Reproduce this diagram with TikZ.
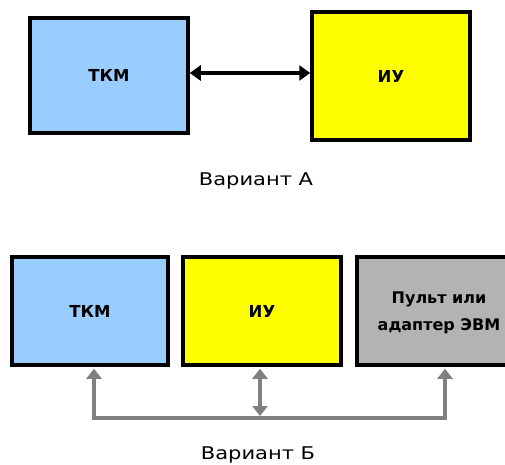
\documentclass[tikz,border=0pt]{standalone}
\usepackage{fontspec}
\setmainfont{DejaVu Sans}
\usetikzlibrary{arrows.meta}
\definecolor{boxblue}{HTML}{99CCFF}
\definecolor{boxyellow}{HTML}{FFFF00}
\definecolor{boxgray}{HTML}{B3B3B3}
\definecolor{busgray}{HTML}{808080}
\tikzset{
  unitbox/.style={draw=black, line width=3.5pt, minimum width=#1, inner sep=0pt,
    font=\bfseries\fontsize{16.5}{18}\selectfont, align=center},
  caption/.style={font=\fontsize{17.5}{20}\selectfont, inner sep=0pt},
  link/.style={line width=4pt, {Triangle[length=11pt,width=15pt]}-{Triangle[length=11pt,width=15pt]}},
  busline/.style={draw=busgray, line width=4.5pt},
  bustip/.style={busline, -{Triangle[length=10pt,width=15pt]}},
}
\begin{document}
\begin{tikzpicture}[x=1pt,y=-1pt]
\useasboundingbox (0,0) rectangle (505,464);
\clip (0,0) rectangle (505,464);

% variant A: direct link
\node[unitbox=158pt, minimum height=115pt, fill=boxblue] (tkmA) at (109,75.5) {ТКМ};
\node[unitbox=158pt, minimum height=128pt, fill=boxyellow] (iuA) at (391,76) {ИУ};
\draw[link] (tkmA.east |- 0,73) -- (iuA.west |- 0,73);
\node[caption] (capA) at (256,181) {\scalebox{1.2}[1]{Вариант А}};

% variant B: common bus
\node[unitbox=156pt, minimum height=108pt, fill=boxblue] (tkmB) at (90,311) {ТКМ};
\node[unitbox=158pt, minimum height=108pt, fill=boxyellow] (iuB) at (262,311) {ИУ};
\node[unitbox=160pt, minimum height=108pt, fill=boxgray] (pult) at (437,311) {};
\node[font=\bfseries\fontsize{16}{27}\selectfont, align=center, inner sep=0pt] (pultText) at (439,313) {Пульт или\\адаптер ЭВМ};

\coordinate (b1) at (94,418);
\coordinate (b2) at (260,418);
\coordinate (b3) at (445,418);
\draw[busline, line cap=rect] (b1) -- (b3);
\draw[bustip] (b1) -- ([yshift=-2pt]b1 |- tkmB.south);
\draw[bustip] (b3) -- ([yshift=-2pt]b3 |- pult.south);
\draw[busline, {Triangle[length=10pt,width=15pt]}-{Triangle[length=10pt,width=15pt]}]
  ([yshift=-2pt]b2 |- iuB.south) -- ([yshift=2pt]b2);

\node[caption] (capB) at (258,455) {\scalebox{1.2}[1]{Вариант Б}};
\end{tikzpicture}
\end{document}
